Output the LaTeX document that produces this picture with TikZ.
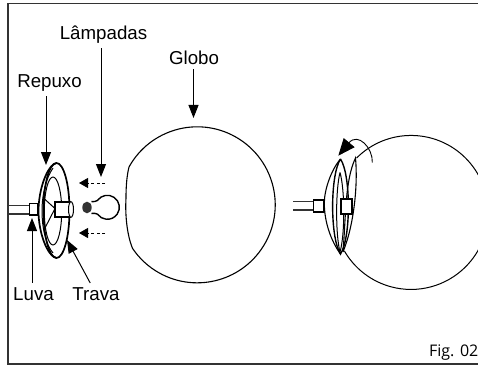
\documentclass[tikz,border=0pt]{standalone}
\usepackage{fontspec}
\setmainfont{Liberation Sans}
\newfontfamily\figfont{Open Sans}
\usetikzlibrary{arrows.meta}
\tikzset{lbl/.style={font=\fontsize{18.7}{19}\selectfont,anchor=base,inner sep=4pt}}
\tikzset{ptr/.style={line width=1pt,-{Triangle[length=13pt,width=10pt]}}}
\tikzset{dptr/.style={line width=.8pt,dash pattern=on 3pt off 2.5pt,-{Triangle[length=9pt,width=10pt]}}}
\tikzset{thin line/.style={line width=1.1pt}}
\tikzset{thick line/.style={line width=1.7pt}}
\begin{document}
\begin{tikzpicture}[x=1pt,y=-1pt]
        \useasboundingbox (0,0) rectangle (478,366);
        \clip (0,0) rectangle (478,366);
        % frame
        \draw[line width=1.1pt,black!80] (478,3.5)--(8,3.5)--(8,364)--(478,364);
        % labels
        \node[lbl] (lamp) at (103.5,40) {Lâmpadas};
        \node[lbl] (globo) at (194,65) {Globo};
        \node[lbl] (repuxo) at (49.5,88) {Repuxo};
        \node[lbl] (luva) at (33.5,300) {Luva};
        \node[lbl] (trava) at (96,300) {Trava};
        \node[font=\figfont\fontsize{16}{16}\selectfont,anchor=base east,inner sep=0pt] (fig) at (478.5,356) {Fig. 02};
        \coordinate (lampT) at (101,177);
        \coordinate (globoT) at (193.5,118);
        \coordinate (repuxoT) at (46,165);
        \coordinate (luvaT) at (32,218);
        \coordinate (travaT) at (67,240);
        \coordinate (dA) at (105,183);
        \coordinate (dAT) at (79,183);
        \coordinate (dB) at (105,233);
        \coordinate (dBT) at (79,233);
        % globes
        \draw[thin line] (129,167) arc (209:506:78) .. controls (127,235) and (125,215) .. (126,198) .. controls (126,185) and (127,175) .. (129,167);
        \draw[line width=1pt] (356.6,158) arc (225:510:77);
        % left fixture
        \draw[line width=1.2pt,black!80] (8,205.3)--(30,205.3) (8,214)--(30,214);
        \draw[thick line] (56.5,163) .. controls (47,165) and (38.5,190) .. (38.5,211) .. controls (38.5,232) and (47,256) .. (56.5,258);
        \draw[line width=1pt] (53,168) .. controls (46,178) and (42,195) .. (42,211) .. controls (42,228) and (46,245) .. (53,253);
        \draw[thick line,fill=white] (29.5,203.5) rectangle (37.5,215);
        \draw[thick line] (56.5,210.5) ellipse [x radius=13,y radius=47.5];
        \draw[line width=1pt] (53,211) ellipse [x radius=8.7,y radius=34];
        \draw[line width=1pt] (44.5,199)--(55,208.5)--(45,228);
        \draw[thick line,fill=white] (71,201.7)--(55,201.7)--(55,217.3)--(71,217.3);
        \draw[line width=1pt,fill=white] (71,209.5) ellipse [x radius=2.5,y radius=7.8];
        % bulb
        \draw[line width=1.4pt] (91.5,201.7) .. controls (94,201.7) and (96,201.5) .. (97.5,200.4) arc (215:505:12) .. controls (96,213.2) and (94,213.3) .. (91.5,213.3);
        \fill[black!80] (87,207.5) ellipse [x radius=4.7,y radius=5.8];
        % right fixture
        \draw[line width=1.2pt,black!80] (293,201.7)--(314,201.7) (293,210)--(314,210);
        \draw[thick line,fill=white] (313.5,200.3) rectangle (324.3,212);
        \draw[thin line,fill=white] (340.5,159) .. controls (331,170) and (324.3,190) .. (324.3,203) .. controls (324.3,222) and (331,241) .. (340.5,254);
        \draw[line width=1.4pt] (340.5,159) .. controls (330,175) and (330,238) .. (340.5,254) .. controls (351,238) and (351,175) .. (340.5,159);
        \draw[line width=1pt] (340,172.5) .. controls (335.5,190) and (335.5,235) .. (340,252) .. controls (345,235) and (345,190) .. (340,172.5);
        \draw[line width=1.1pt] (343,252) .. controls (346,215) and (345,180) .. (355.5,158) .. controls (358,185) and (354,225) .. (343,252);
        \draw[thick line,fill=white] (341,199) rectangle (352.3,214.3);
        \draw[line width=.9pt,-{Triangle[length=17pt,width=14pt]}] (372.3,162.5) .. controls (373,148) and (358,132) .. (338.3,155.7);
        % pointers
        \draw[ptr] (lamp.south -| lampT) -- (lampT);
        \draw[ptr] (globo.south -| globoT) -- (globoT);
        \draw[ptr] (repuxo.south -| repuxoT) -- (repuxoT);
        \draw[ptr] (luva.north -| luvaT) -- (luvaT);
        \draw[ptr] (trava) -- (travaT);
        \draw[dptr] (dA) -- (dAT);
        \draw[dptr] (dB) -- (dBT);
      \end{tikzpicture}
\end{document}
